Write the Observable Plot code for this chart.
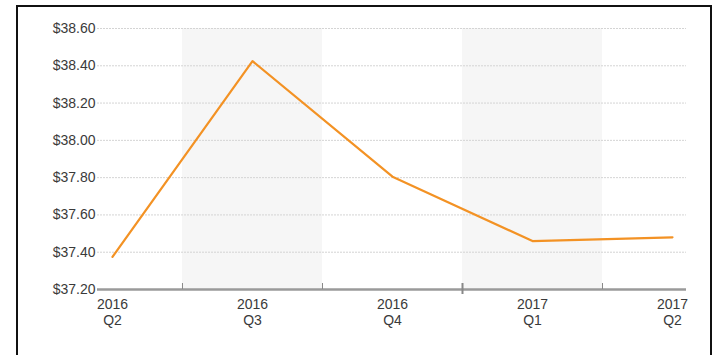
<!DOCTYPE html>
<html>
<head>
<meta charset="utf-8">
<script src="https://cdn.jsdelivr.net/npm/d3@7"></script>
<script src="https://cdn.jsdelivr.net/npm/@observablehq/plot@0.6"></script>
<style>
  html, body { margin: 0; padding: 0; background: #fff; }
  body { width: 716px; height: 355px; position: relative; overflow: hidden; }
  #frame { position: absolute; left: 16px; top: 5px; width: 696px; height: 400px; border: 2px solid #111; box-sizing: border-box; }
  #chart { position: absolute; left: 0; top: 0; }
</style>
</head>
<body>
<div id="frame"></div>
<div id="chart"></div>
<script>
const years = ["2016", "2016", "2016", "2017", "2017"];
const quarters = ["Q2", "Q3", "Q4", "Q1", "Q2"];
const prices = [37.375, 38.425, 37.805, 37.46, 37.48];
const yTicks = [37.2, 37.4, 37.6, 37.8, 38.0, 38.2, 38.4, 38.6];
const shadedQuarters = [1, 3];
const boundaries = [0.5, 1.5, 2.5, 3.5];
const yearBoundary = [2.5];

const data = prices.map((v, i) => ({i, v, label: years[i] + "\n" + quarters[i]}));
const bands = shadedQuarters.map(i => ({x1: i - 0.5, x2: i + 0.5}));

const chart = Plot.plot({
  width: 716,
  height: 355,
  marginLeft: 97,
  marginRight: 30,
  marginTop: 28,
  marginBottom: 66,
  style: {fontFamily: "'Liberation Sans', Arial, sans-serif", fontSize: "14px", color: "#333", background: "transparent"},
  x: {domain: [-0.107, 4.1], axis: null},
  y: {domain: [37.2, 38.6], axis: null},
  marks: [
    Plot.rectY(bands, {x1: "x1", x2: "x2", y1: 37.2, y2: 38.6, fill: "#f6f6f6"}),
    Plot.ruleY(yTicks.slice(1), {stroke: "#d4d4d4", strokeWidth: 1, strokeDasharray: "2,1"}),
    Plot.axisY({ticks: yTicks, tickSize: 0, tickPadding: 2, label: null, tickFormat: d => "$" + d.toFixed(2), fill: "#3a3a3a", fontSize: 14}),
    Plot.ruleY([37.2], {stroke: "#9a9a9a", strokeWidth: 2.5}),
    Plot.axisX({ticks: boundaries, tickSize: 6, dy: -6, label: null, tickFormat: () => "", stroke: "#888", strokeWidth: 1}),
    Plot.axisX({ticks: yearBoundary, tickSize: 11, dy: -6, label: null, tickFormat: () => "", stroke: "#888", strokeWidth: 2}),
    Plot.axisX({ticks: data.map(d => d.i), tickSize: 0, tickPadding: 9, label: null, tickFormat: i => data[i].label, lineHeight: 1.1, fill: "#3a3a3a", fontSize: 14}),
    Plot.line(data, {x: "i", y: "v", stroke: "#f39224", strokeWidth: 2.2})
  ]
});
document.getElementById("chart").append(chart);
</script>
</body>
</html>
